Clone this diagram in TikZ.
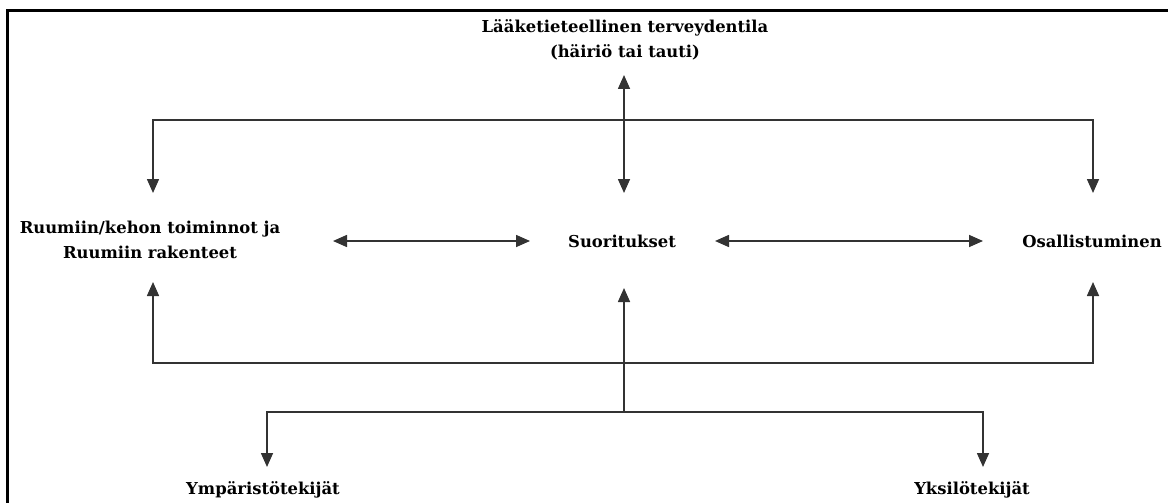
\documentclass[tikz,border=0pt]{standalone}
\usepackage{fontspec}
\setmainfont{DejaVu Serif}
\usetikzlibrary{arrows.meta}
\begin{document}
\begin{tikzpicture}[x=1pt,y=-1pt,
  lbl/.style={font=\bfseries\fontsize{16.4}{24.5}\selectfont, align=center, inner sep=0pt, text=black},
  ln/.style={line width=1.6pt, draw=black!80},
  tip/.style={-{Triangle[width=12pt,length=14pt]}},
  tips/.style={{Triangle[width=12pt,length=14pt]}-{Triangle[width=12pt,length=14pt]}},
  frame/.style={line width=3.8pt, draw=black}]
\useasboundingbox (0,0) rectangle (1168,503);
\draw[frame] (7.5,503) -- (7.5,10.5) -- (1168,10.5);

\node[lbl] (top) at (625,40) {Lääketieteellinen terveydentila\\(häiriö tai tauti)};
\node[lbl] (body) at (150,240) {Ruumiin/kehon toiminnot ja\\Ruumiin rakenteet};
\node[lbl] (act) at (622,241) {Suoritukset};
\node[lbl] (part) at (1092,241) {Osallistuminen};
\node[lbl] (env) at (263,490) {Ympäristötekijät};
\node[lbl] (pers) at (972,490) {Yksilötekijät};

% coordinates
\coordinate (tl) at (153,120);
\coordinate (tr) at (1093,120);
\coordinate (bl) at (153,363);
\coordinate (br) at (1093,363);
\coordinate (jm) at (624,412);
\coordinate (jl) at (267,412);
\coordinate (jr) at (983,412);

% top distribution
\draw[ln,tips] (tl |- 0,193) -- (tl) -- (tr) -- (tr |- 0,193);
% condition <-> activities
\draw[ln,tips] (624,75) -- (624,193);
% horizontal double arrows
\draw[ln,tips] (333,241) -- (530,241);
\draw[ln,tips] (715,241) -- (983,241);
% bottom loop
\draw[ln,tips] (bl |- 0,282) -- (bl) -- (br) -- (br |- 0,282);
% middle up
\draw[ln,tip] (jm) -- (624,288);
% contextual factors
\draw[ln,tips] (jl |- 0,467) -- (jl) -- (jr) -- (jr |- 0,467);
\end{tikzpicture}
\end{document}
